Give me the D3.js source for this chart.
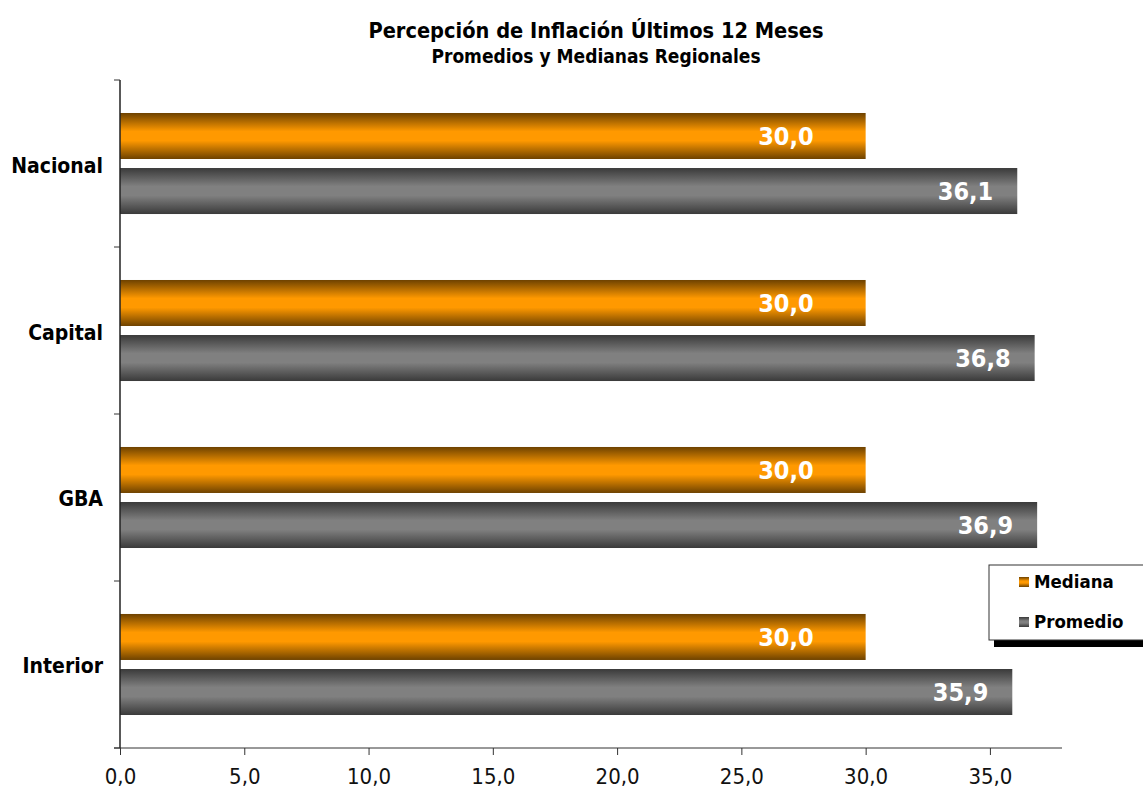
<!DOCTYPE html>
<html>
<head>
<meta charset="utf-8">
<script src="https://cdn.jsdelivr.net/npm/d3@7"></script>
<style>
  body { margin: 0; background: #fff; }
  text { font-family: "DejaVu Sans Condensed", "DejaVu Sans", sans-serif; }
</style>
</head>
<body>
<div id="chart"></div>
<script>
// data
const regions = ["Nacional", "Capital", "GBA", "Interior"];
const series = ["Mediana", "Promedio"];
const mediana = [30.0, 30.0, 30.0, 30.0];
const promedio = [36.1, 36.8, 36.9, 35.9];
const xTicks = [0, 5, 10, 15, 20, 25, 30, 35];

const W = 1143, H = 795;
const margin = {top: 80, right: 81, bottom: 47, left: 120},
    width = W - margin.left - margin.right,
    height = H - margin.top - margin.bottom;

const svg = d3.select("#chart").append("svg")
  .attr("width", W).attr("height", H);

const defs = svg.append("defs");
function grad(id, edge, mid) {
  const g = defs.append("linearGradient").attr("id", id)
    .attr("x1", 0).attr("y1", 0).attr("x2", 0).attr("y2", 1);
  g.append("stop").attr("offset", "0%").attr("stop-color", edge);
  g.append("stop").attr("offset", "40%").attr("stop-color", mid);
  g.append("stop").attr("offset", "60%").attr("stop-color", mid);
  g.append("stop").attr("offset", "100%").attr("stop-color", edge);
}
grad("g-med", "#6e4200", "#ff9900");
grad("g-pro", "#3a3a3a", "#808080");
const fills = {"Mediana": "url(#g-med)", "Promedio": "url(#g-pro)"};

// titles
svg.append("text").attr("x", 596).attr("y", 38).attr("text-anchor", "middle")
  .style("font-size", "21.6px").style("font-weight", "bold")
  .text("Percepción de Inflación Últimos 12 Meses");
svg.append("text").attr("x", 596).attr("y", 63).attr("text-anchor", "middle")
  .style("font-size", "19px").style("font-weight", "bold")
  .text("Promedios y Medianas Regionales");

const g = svg.append("g").attr("transform", `translate(${margin.left},${margin.top})`);

const x = d3.scaleLinear().domain([0, 37.9]).range([0, width]);
const y = d3.scaleBand().domain(regions).range([0, height]).paddingInner(0.395).paddingOuter(0.1976);
const ySub = d3.scaleBand().domain(series).range([0, y.bandwidth()]).paddingInner(0.164);

const fmt = v => d3.format(".1f")(v).replace(".", ",");

const rows = regions.map((r, i) => ({region: r, vals: [
  {s: "Mediana", v: mediana[i]}, {s: "Promedio", v: promedio[i]}]}));

const grp = g.selectAll(".reg").data(rows).join("g")
  .attr("transform", d => `translate(0,${y(d.region)})`);

grp.selectAll("rect").data(d => d.vals).join("rect")
  .attr("x", 0)
  .attr("y", d => ySub(d.s))
  .attr("width", d => x(d.v))
  .attr("height", ySub.bandwidth())
  .attr("fill", d => fills[d.s]);

grp.selectAll(".lbl").data(d => d.vals).join("text")
  .attr("class", "lbl")
  .attr("x", d => x(d.v) - (d.s === "Mediana" ? 52 : 24))
  .attr("y", d => ySub(d.s) + ySub.bandwidth() / 2 + 9)
  .attr("text-anchor", "end")
  .style("fill", "#fff").style("font-size", "25px").style("font-weight", "bold")
  .text(d => fmt(d.v));

// x axis
const xAxis = g.append("g").attr("transform", `translate(0,${height})`)
  .call(d3.axisBottom(x).tickValues(xTicks).tickSize(7).tickPadding(13).tickFormat(fmt));
xAxis.select(".domain").attr("stroke", "#333").attr("d", `M-6,0H${width}`);
xAxis.selectAll("line").attr("stroke", "#333");
xAxis.selectAll("text").style("font-size", "22px").style("fill", "#111")
  .style("font-family", "'DejaVu Sans Condensed', 'DejaVu Sans', sans-serif");

// y axis: ticks sit between categories
const yAxis = g.append("g");
yAxis.append("line").attr("x1", 0).attr("x2", 0).attr("y1", 0).attr("y2", height)
  .attr("stroke", "#222").attr("stroke-width", 1.5);
const step = height / regions.length;
d3.range(regions.length + 1).forEach(i => {
  yAxis.append("line").attr("x1", -6).attr("x2", 0)
    .attr("y1", i * step).attr("y2", i * step).attr("stroke", "#333");
});
yAxis.selectAll(".cat").data(regions).join("text")
  .attr("x", -17)
  .attr("y", d => y(d) + y.bandwidth() / 2 + 9)
  .attr("text-anchor", "end")
  .style("font-size", "21px").style("font-weight", "bold")
  .text(d => d);

// legend
const lg = svg.append("g").attr("transform", "translate(989,565)");
lg.append("rect").attr("x", 5).attr("y", 6).attr("width", 170).attr("height", 76).attr("fill", "#000");
lg.append("rect").attr("x", 0).attr("y", 0).attr("width", 170).attr("height", 75)
  .attr("fill", "#fff").attr("stroke", "#333");
series.forEach((s, i) => {
  lg.append("rect").attr("x", 30).attr("y", 12 + i * 40).attr("width", 10).attr("height", 10)
    .attr("fill", fills[s]);
  lg.append("text").attr("x", 45).attr("y", 23 + i * 40)
    .style("font-size", "18.5px").style("font-weight", "bold").text(s);
});
</script>
</body>
</html>
